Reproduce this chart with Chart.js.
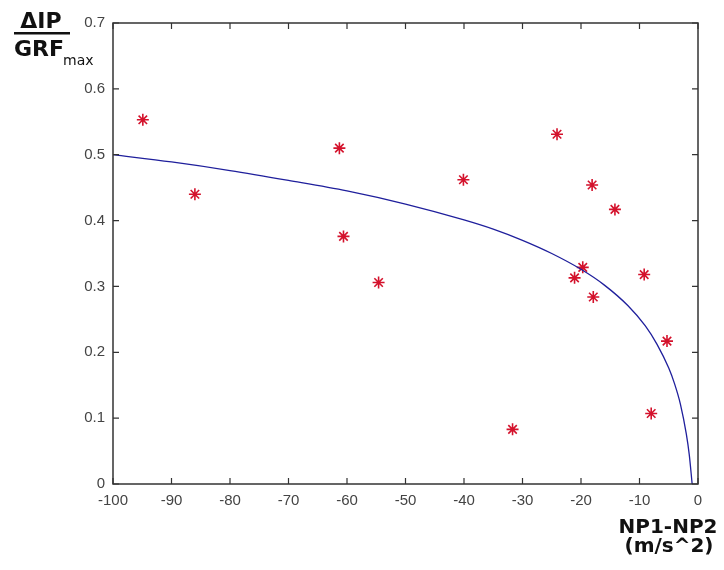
<!DOCTYPE html>
<html>
<head>
<meta charset="utf-8">
<script src="https://cdn.jsdelivr.net/npm/chart.js@4"></script>
<style>
  body { margin: 0; background: #fff; }
  canvas { display: block; }
</style>
</head>
<body>
<canvas id="myChart" width="724" height="570"></canvas>
<script>
// measured points (NP1-NP2 vs dIP/GRFmax)
const pointX = [-94.9, -86.0, -61.3, -60.6, -54.6, -40.1, -24.1, -18.1, -14.2, -19.7, -21.1, -17.9, -9.2, -5.3, -8.0, -31.7];
const pointY = [0.553, 0.440, 0.510, 0.376, 0.306, 0.462, 0.531, 0.454, 0.417, 0.329, 0.313, 0.284, 0.318, 0.217, 0.107, 0.083];

// fitted curve
const curveX = [-100, -90, -80, -70, -60, -50, -40, -35, -30, -25, -20, -16, -12, -9, -7, -5, -4, -3, -2, -1.5, -1];
const curveY = [0.500, 0.489, 0.476, 0.461, 0.445, 0.425, 0.401, 0.387, 0.370, 0.350, 0.326, 0.302, 0.271, 0.240, 0.212, 0.176, 0.152, 0.121, 0.076, 0.045, 0.0];

// axis ranges
const xRange = [-100, 0, 10];
const yRange = [0, 0.7, 0.1];

const tickFont = { family: 'Liberation Sans', size: 15 };

// frame with inward ticks on all four sides, plus the axis titles
const framePlugin = {
  id: 'frame',
  afterDraw(chart) {
    const ctx = chart.ctx;
    const { left, right, top, bottom } = chart.chartArea;
    const xs = chart.scales.x, ys = chart.scales.y;
    ctx.save();
    ctx.strokeStyle = '#333';
    ctx.lineWidth = 1.5;
    ctx.strokeRect(left, top, right - left, bottom - top);
    ctx.lineWidth = 1.2;
    ctx.beginPath();
    xs.ticks.forEach(t => {
      const px = xs.getPixelForValue(t.value);
      ctx.moveTo(px, bottom); ctx.lineTo(px, bottom - 6);
      ctx.moveTo(px, top); ctx.lineTo(px, top + 6);
    });
    ys.ticks.forEach(t => {
      const py = ys.getPixelForValue(t.value);
      ctx.moveTo(left, py); ctx.lineTo(left + 6, py);
      ctx.moveTo(right, py); ctx.lineTo(right - 6, py);
    });
    ctx.stroke();

    // y title: dIP over GRF_max
    ctx.fillStyle = '#111';
    ctx.textBaseline = 'alphabetic';
    ctx.textAlign = 'center';
    ctx.font = 'bold 22px "DejaVu Sans"';
    ctx.fillText('ΔIP', 41, 28);
    ctx.fillText('GRF', 39, 56);
    ctx.fillRect(14, 32, 56, 2.5);
    ctx.font = '14px "DejaVu Sans"';
    ctx.textAlign = 'left';
    ctx.fillText('max', 63, 65);

    // x title
    ctx.textAlign = 'center';
    ctx.font = 'bold 20px "DejaVu Sans"';
    ctx.fillText('NP1-NP2', 668, 533);
    ctx.fillText('(m/s^2)', 669, 552);
    ctx.restore();
  }
};

new Chart(document.getElementById('myChart'), {
  type: 'scatter',
  data: {
    datasets: [{
      type: 'line',
      data: curveX.map((x, i) => ({ x: x, y: curveY[i] })),
      borderColor: '#1f1f9c',
      borderWidth: 1.3,
      pointRadius: 0,
      fill: false,
      cubicInterpolationMode: 'monotone'
    }, {
      data: pointX.map((x, i) => ({ x: x, y: pointY[i] })),
      pointStyle: 'star',
      pointRadius: 6,
      borderColor: '#d4122c',
      backgroundColor: '#d4122c',
      borderWidth: 1.6
    }]
  },
  options: {
    responsive: false,
    animation: false,
    events: [],
    layout: { padding: { top: 23, right: 26, left: 0, bottom: 0 } },
    plugins: { legend: { display: false }, tooltip: { enabled: false } },
    scales: {
      x: {
        type: 'linear',
        min: xRange[0], max: xRange[1],
        grid: { display: false },
        border: { display: false },
        ticks: { stepSize: xRange[2], color: '#444', font: tickFont, padding: 0, maxRotation: 0 },
        afterFit(scale) { scale.height = 86; }
      },
      y: {
        min: yRange[0], max: yRange[1],
        grid: { display: false },
        border: { display: false },
        ticks: { stepSize: yRange[2], color: '#444', font: tickFont, padding: 0 },
        afterFit(scale) { scale.width = 113; }
      }
    }
  },
  plugins: [framePlugin]
});
</script>
</body>
</html>
